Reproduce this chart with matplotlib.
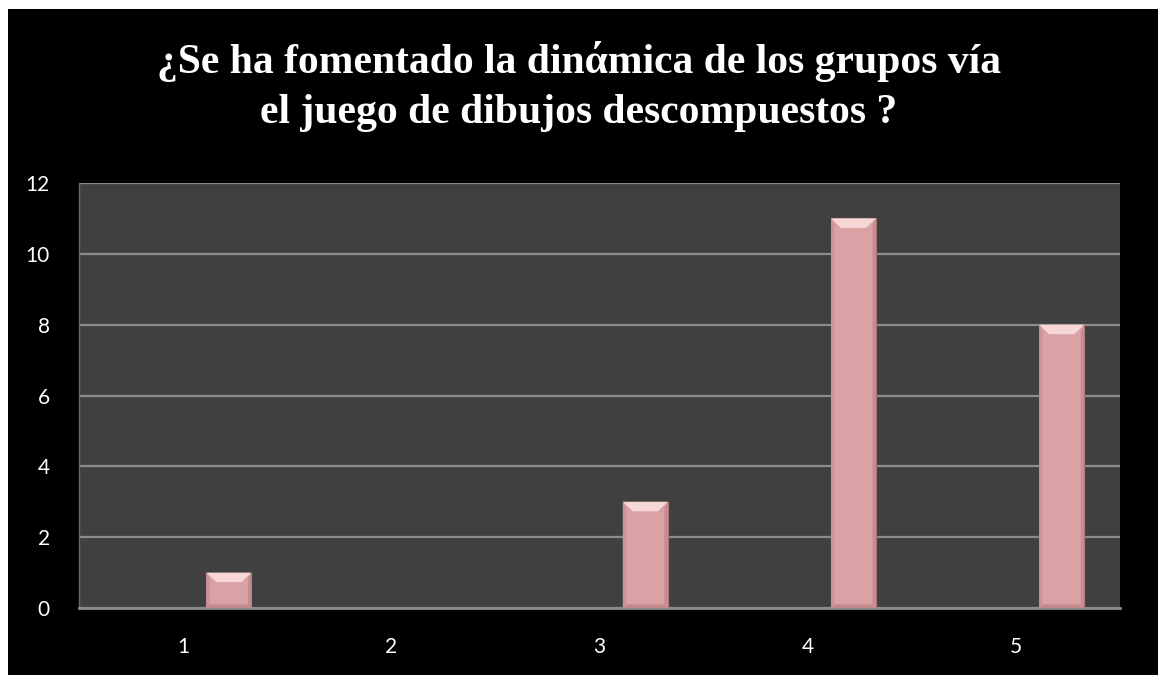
import matplotlib
matplotlib.use("Agg")
import matplotlib.pyplot as plt
from matplotlib.patches import Rectangle, Polygon

# Data
categories = [1, 2, 3, 4, 5]
values = [1, 0, 3, 11, 8]
yticks = [0, 2, 4, 6, 8, 10, 12]
title_lines = ["¿Se ha fomentado la dinάmica de los grupos vía",
               "el juego de dibujos descompuestos ?"]

fig = plt.figure(figsize=(11.58, 6.75), dpi=100, facecolor="white")

# black slide background (white strip top and left)
fig.patches.append(Rectangle((8 / 1158, 0), 1, 1 - 9 / 675, transform=fig.transFigure,
                             facecolor="black", edgecolor="none", zorder=-5))

ax = fig.add_axes([79 / 1158, 1 - 608 / 675, 1041 / 1158, 425 / 675])
ax.set_facecolor("#404040")

offset = 0.22
width = 0.216
xs = [c + offset for c in categories]
bars = ax.bar(xs, values, width=width, color="#dba2a5", edgecolor="#a87679",
              linewidth=0.8, zorder=3)

# bevel effect on each bar: lighter top, darker sides/bottom
for b in bars:
    x0, y0 = b.get_x(), b.get_y()
    w, h = b.get_width(), b.get_height()
    if h <= 0:
        continue
    bev_x = w * 0.22
    bev_y = min(0.27, h * 0.3)
    side = bev_x * 0.35
    top = Polygon([(x0, y0 + h), (x0 + w, y0 + h), (x0 + w - bev_x, y0 + h - bev_y),
                   (x0 + bev_x, y0 + h - bev_y)], closed=True,
                  facecolor="#f6d6d6", edgecolor="none", zorder=4)
    bot = Polygon([(x0, y0), (x0 + w, y0), (x0 + w - side, y0 + 0.1),
                   (x0 + side, y0 + 0.1)], closed=True,
                  facecolor="#c18a8d", edgecolor="none", zorder=4)
    left = Polygon([(x0, y0), (x0 + side, y0 + 0.1),
                    (x0 + side, y0 + h - bev_y * 0.6), (x0, y0 + h)], closed=True,
                   facecolor="#cc9497", edgecolor="none", zorder=4)
    right = Polygon([(x0 + w, y0), (x0 + w - side, y0 + 0.1),
                     (x0 + w - side, y0 + h - bev_y * 0.6), (x0 + w, y0 + h)], closed=True,
                    facecolor="#c68d90", edgecolor="none", zorder=4)
    for p in (top, bot, left, right):
        ax.add_patch(p)

ax.set_xlim(0.5, 5.5)
ax.set_ylim(0, 12)
ax.set_xticks(categories)
ax.set_xticklabels([str(c) for c in categories], fontsize=15, fontfamily="Lato")
ax.set_yticks(yticks)
ax.set_yticklabels([str(t) for t in yticks], fontsize=15, fontfamily="Lato")
ax.tick_params(length=0, colors="white")
ax.tick_params(axis="y", pad=21)
ax.tick_params(axis="x", pad=21)

ax.grid(axis="y", color="#8c8c8c", lw=1.6, zorder=1)
for s in ("top", "right"):
    ax.spines[s].set_visible(False)
ax.spines["bottom"].set_color("#8c8c8c")
ax.spines["bottom"].set_linewidth(2)
ax.spines["left"].set_color("#6a6a6a")
ax.spines["left"].set_linewidth(1)

fig.text(0.5, 1 - 73 / 675, title_lines[0], ha="center", va="baseline", color="white",
         fontsize=30, fontweight="bold", family="Liberation Serif")
fig.text(0.5, 1 - 123 / 675, title_lines[1], ha="center", va="baseline", color="white",
         fontsize=30, fontweight="bold", family="Liberation Serif")

fig.savefig("out.png", dpi=100, facecolor=fig.get_facecolor())
